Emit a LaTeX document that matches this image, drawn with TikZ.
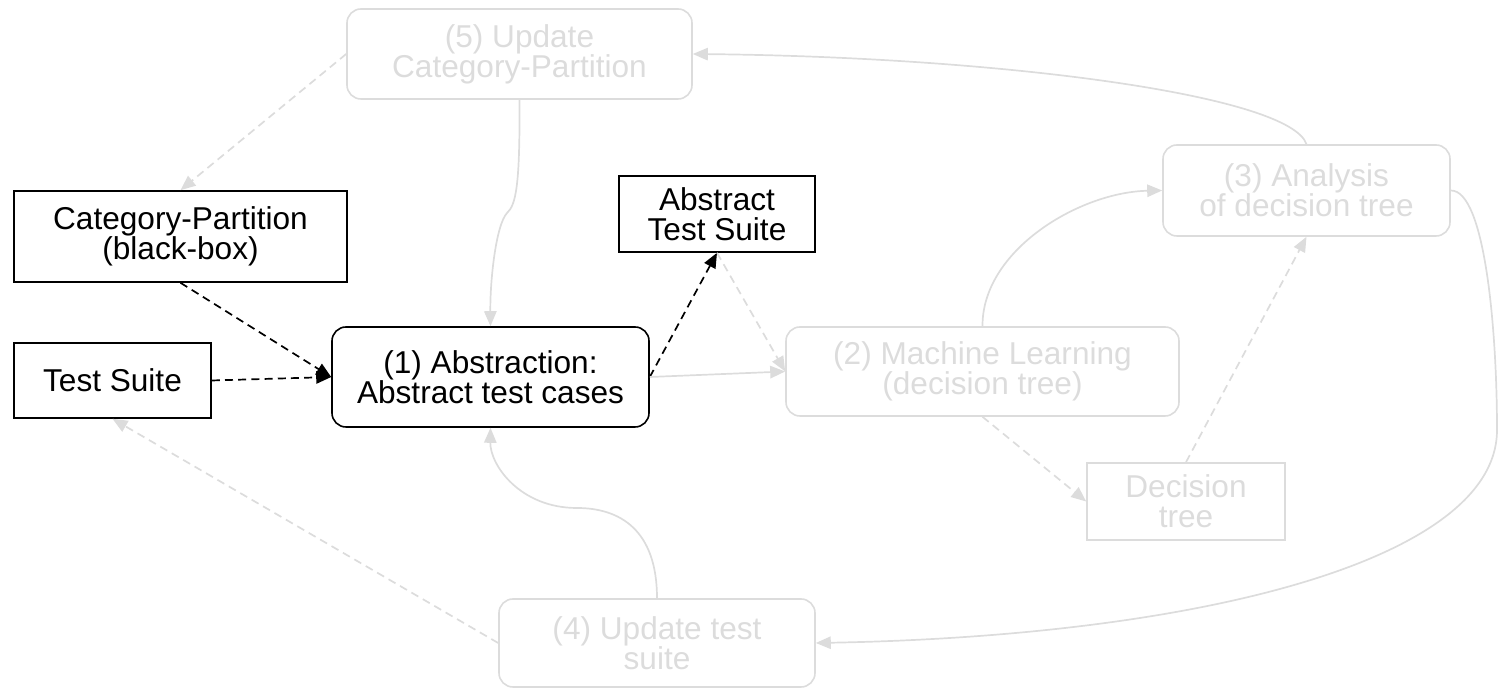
\documentclass[tikz,border=0pt]{standalone}
\usepackage{fontspec}
\setmainfont{Liberation Sans}
\usetikzlibrary{arrows.meta}
\definecolor{faded}{HTML}{DCDCDC}
\tikzset{
  box/.style={draw=black, line width=0.8pt, inner sep=0pt, align=center,
    font=\fontsize{15.8pt}{15pt}\selectfont},
  roundbox/.style={box, rounded corners=7pt},
  ghost/.style={draw=faded, text=faded},
  tip/.style={-{Triangle[length=7.5pt,width=6.2pt]}},
  flow/.style={tip, line width=0.85pt, draw=black},
  dataflow/.style={flow, dash pattern=on 4pt off 2.6pt},
  gflow/.style={flow, draw=faded},
  gdata/.style={dataflow, draw=faded},
}
\begin{document}
\begin{tikzpicture}[x=0.5pt,y=-0.5pt]
\useasboundingbox (0,0) rectangle (1501,688);

% process steps
\node[roundbox, ghost, minimum width=345*0.5pt, minimum height=90*0.5pt] (upcp) at (519.5,54) {(5) Update\\Category-Partition};
\node[roundbox, minimum width=317*0.5pt, minimum height=100*0.5pt] (abs) at (490.5,377) {(1) Abstraction:\\Abstract test cases};
\node[roundbox, ghost, minimum width=393*0.5pt, minimum height=89*0.5pt] (ml) at (982.5,371.5) {(2) Machine Learning\\(decision tree)};
\node[roundbox, ghost, minimum width=287*0.5pt, minimum height=91*0.5pt] (ana) at (1306.5,190.5) {(3) Analysis\\of decision tree};
\node[roundbox, ghost, minimum width=316*0.5pt, minimum height=88*0.5pt] (upts) at (657,643) {(4) Update test\\suite};

% artefacts
\node[box, minimum width=333*0.5pt, minimum height=91*0.5pt] (cp) at (180.5,236.5) {Category-Partition\\(black-box)};
\node[box, minimum width=197*0.5pt, minimum height=75*0.5pt] (ts) at (112.5,380.5) {Test Suite};
\node[box, minimum width=196*0.5pt, minimum height=76*0.5pt] (ats) at (717,214) {Abstract\\Test Suite};
\node[box, ghost, minimum width=198*0.5pt, minimum height=77*0.5pt] (dt) at (1186,501.5) {Decision\\tree};

% active data flows
\draw[dataflow] (cp.south) -- (abs.west);
\draw[dataflow] (ts.east) -- (abs.west);
\draw[dataflow] (abs.east) -- (ats.south);

% faded data flows
\draw[gdata] (upcp.west) -- (cp.north);
\draw[gdata] (ats.south) -- (ml.west);
\draw[gdata] (ml.south) -- (dt.west);
\draw[gdata] (dt.north) -- (ana.south);
\draw[gdata] (upts.west) -- (ts.south);

% faded control flows
\draw[gflow] (abs.east) -- (ml.west);
\draw[gflow] (upcp.south) .. controls (520,185) and (516,205) .. (507,213)
  .. controls (496,225) and (490,280) .. (abs.north);
\draw[gflow] (ml.north) .. controls (982,250) and (1080,192) .. (ana.west);
\draw[gflow] (ana.north) .. controls (1290,95) and (1000,57) .. (upcp.east);
\draw[gflow] (ana.east) .. controls (1485,190) and (1497,330) .. (1497,430)
  .. controls (1497,560) and (1200,636) .. (upts.east);
\draw[gflow] (upts.north) .. controls (657,530) and (620,508) .. (577,508)
  .. controls (520,508) and (490,465) .. (abs.south);
\end{tikzpicture}
\end{document}
